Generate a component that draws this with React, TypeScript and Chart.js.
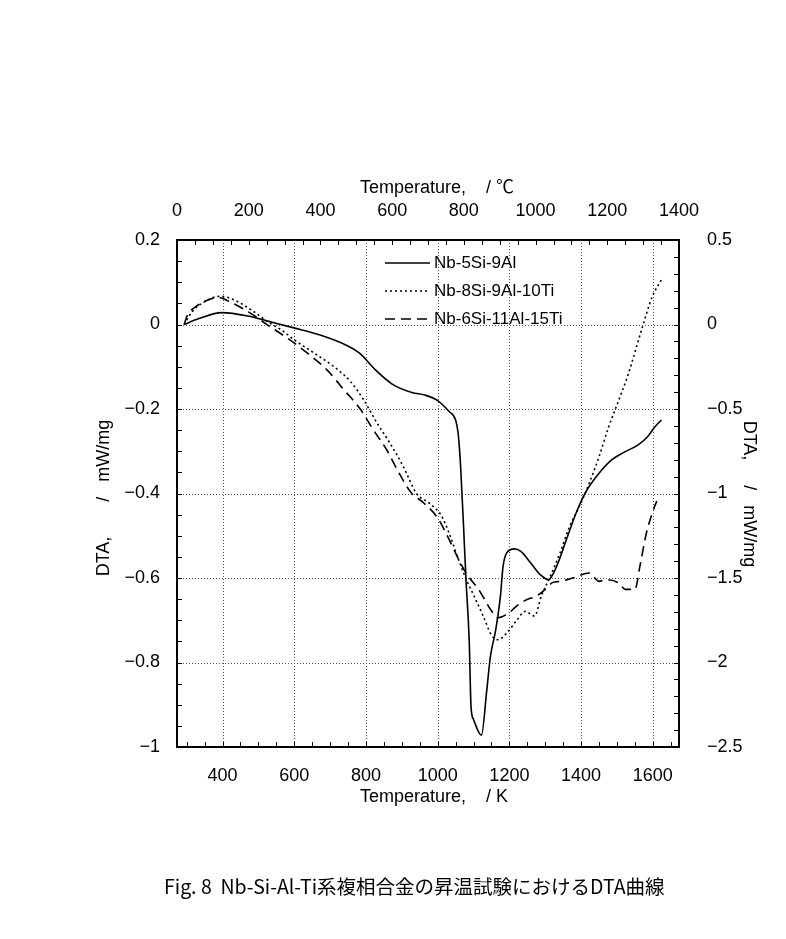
import React, { useEffect, useRef } from "react";
import { Chart, registerables } from "chart.js";

Chart.register(...registerables);

const FONT = '"Liberation Sans", Arial, "Noto Sans CJK JP", sans-serif';
const CJK_FONT = '"Noto Sans CJK JP", "Liberation Sans", sans-serif';

// Axis ticks
const kelvinTicks = [400, 600, 800, 1000, 1200, 1400, 1600];
const celsiusTicks = [0, 200, 400, 600, 800, 1000, 1200, 1400];
const dtaLeftTicks = [0.2, 0, -0.2, -0.4, -0.6, -0.8, -1];
const dtaRightTicks = [0.5, 0, -0.5, -1, -1.5, -2, -2.5];

const seriesLabels = ["Nb-5Si-9Al", "Nb-8Si-9Al-10Ti", "Nb-6Si-11Al-15Ti"];

// [Temperature / K, DTA / mW/mg]
const nb5Si9Al = [
  [293, 0], [334, 0.014], [398, 0.028], [471, 0.02], [526, 0.008], [599, -0.008],
  [672, -0.025], [745, -0.049], [782, -0.068], [827, -0.108], [873, -0.141],
  [928, -0.161], [964, -0.167], [1000, -0.18], [1032, -0.206], [1050, -0.226],
  [1057, -0.257], [1064, -0.336], [1073, -0.494], [1079, -0.604], [1088, -0.75],
  [1093, -0.905], [1100, -0.935], [1122, -0.972], [1137, -0.865], [1147, -0.786],
  [1162, -0.722], [1175, -0.643], [1182, -0.575], [1192, -0.541], [1214, -0.531],
  [1232, -0.537], [1259, -0.564], [1286, -0.592], [1309, -0.604], [1332, -0.572],
  [1359, -0.509], [1386, -0.446], [1414, -0.395], [1450, -0.352], [1486, -0.32],
  [1523, -0.301], [1559, -0.285], [1586, -0.265], [1605, -0.243], [1624, -0.226],
];

const nb8Si9Al10Ti = [
  [293, 0], [315, 0.03], [348, 0.053], [394, 0.067], [435, 0.057], [481, 0.034],
  [527, 0.006], [564, -0.013], [601, -0.037], [656, -0.068], [711, -0.1],
  [757, -0.135], [794, -0.179], [830, -0.232], [867, -0.281], [904, -0.336],
  [941, -0.4], [977, -0.423], [1010, -0.452], [1032, -0.494], [1055, -0.549],
  [1078, -0.6], [1100, -0.64], [1127, -0.69], [1150, -0.735], [1168, -0.746],
  [1193, -0.73], [1219, -0.702], [1244, -0.679], [1270, -0.69], [1290, -0.64],
  [1312, -0.6], [1341, -0.541], [1368, -0.478], [1395, -0.431], [1423, -0.375],
  [1450, -0.313], [1477, -0.242], [1505, -0.179], [1529, -0.124], [1571, -0.006],
  [1598, 0.065], [1626, 0.109],
];

const nb6Si11Al15Ti = [
  [293, 0], [302, 0.022], [325, 0.042], [356, 0.057], [389, 0.064], [417, 0.055],
  [472, 0.03], [527, -0.002], [582, -0.033], [637, -0.068], [692, -0.108],
  [739, -0.155], [784, -0.2], [821, -0.25], [858, -0.297], [890, -0.348],
  [925, -0.397], [962, -0.423], [1000, -0.458], [1032, -0.509], [1059, -0.557],
  [1082, -0.592], [1114, -0.627], [1148, -0.675], [1168, -0.694], [1198, -0.683],
  [1219, -0.667], [1249, -0.651], [1275, -0.643], [1300, -0.627], [1320, -0.611],
  [1341, -0.608], [1377, -0.6], [1423, -0.588], [1450, -0.608], [1468, -0.604],
  [1505, -0.612], [1523, -0.627], [1550, -0.627], [1564, -0.572], [1582, -0.494],
  [1605, -0.431], [1611, -0.418],
];

const seriesData = [nb5Si9Al, nb8Si9Al10Ti, nb6Si11Al15Ti];
const seriesDash = [[], [2, 3], [10, 6]];

const fmt = (v: number) => String(Math.round(v * 10) / 10).replace("-", "−");
const fmtInt = (v: number) => String(Math.round(v));

const decor = {
  id: "decor",
  beforeDatasetsDraw(chart: any) {
    const { ctx, chartArea: a, scales } = chart;
    ctx.save();
    ctx.strokeStyle = "#555";
    ctx.lineWidth = 1;
    ctx.setLineDash([1, 2]);
    for (const k of kelvinTicks) {
      const x = Math.round(scales.x.getPixelForValue(k)) + 0.5;
      ctx.beginPath();
      ctx.moveTo(x, a.top);
      ctx.lineTo(x, a.bottom);
      ctx.stroke();
    }
    for (const v of dtaLeftTicks) {
      const y = Math.round(scales.y.getPixelForValue(v)) + 0.5;
      ctx.beginPath();
      ctx.moveTo(a.left, y);
      ctx.lineTo(a.right, y);
      ctx.stroke();
    }
    ctx.restore();
  },
  afterDatasetsDraw(chart: any) {
    const { ctx, chartArea: a, scales } = chart;
    ctx.save();
    ctx.setLineDash([]);
    ctx.strokeStyle = "#000";
    ctx.lineWidth = 1;
    const T = 5;
    for (let k = 300; k <= 1650; k += 50) {
      const x = Math.round(scales.x.getPixelForValue(k)) + 0.5;
      ctx.beginPath(); ctx.moveTo(x, a.bottom); ctx.lineTo(x, a.bottom - T); ctx.stroke();
    }
    for (let c = 0; c <= 1400; c += 50) {
      const x = Math.round(scales.x2.getPixelForValue(c)) + 0.5;
      ctx.beginPath(); ctx.moveTo(x, a.top); ctx.lineTo(x, a.top + T); ctx.stroke();
    }
    for (let i = -20; i <= 4; i++) {
      const y = Math.round(scales.y.getPixelForValue(i * 0.05)) + 0.5;
      ctx.beginPath(); ctx.moveTo(a.left, y); ctx.lineTo(a.left + T, y); ctx.stroke();
    }
    for (let i = -25; i <= 5; i++) {
      const y = Math.round(scales.y2.getPixelForValue(i * 0.1)) + 0.5;
      ctx.beginPath(); ctx.moveTo(a.right, y); ctx.lineTo(a.right - T, y); ctx.stroke();
    }
    ctx.lineWidth = 2;
    ctx.strokeRect(a.left, a.top, a.right - a.left, a.bottom - a.top);

    // legend
    const lx = a.left + 208;
    const ly = a.top + 23;
    ctx.font = `17px ${FONT}`;
    ctx.textBaseline = "middle";
    ctx.textAlign = "left";
    ctx.fillStyle = "#000";
    chart.data.datasets.forEach((ds: any, i: number) => {
      const y = ly + i * 28;
      ctx.lineWidth = 1.5;
      ctx.setLineDash(ds.borderDash || []);
      ctx.beginPath();
      ctx.moveTo(lx, y);
      ctx.lineTo(lx + 45, y);
      ctx.stroke();
      ctx.setLineDash([]);
      ctx.fillText(ds.label, lx + 49, y);
    });
    ctx.restore();
  },
  afterDraw(chart: any) {
    const { ctx } = chart;
    ctx.save();
    ctx.fillStyle = "#000";
    ctx.font = `18px ${FONT}`;
    ctx.textBaseline = "middle";
    ctx.textAlign = "left";
    ctx.fillText("Temperature,    / ℃", 360, 188);
    ctx.fillText("Temperature,    / K", 360, 797);

    ctx.textAlign = "center";
    ctx.save();
    ctx.translate(104, 498);
    ctx.rotate(-Math.PI / 2);
    ctx.fillText("DTA,       /   mW/mg", 0, 0);
    ctx.restore();
    ctx.save();
    ctx.translate(749, 494);
    ctx.rotate(Math.PI / 2);
    ctx.fillText("DTA,     /   mW/mg", 0, 0);
    ctx.restore();

    ctx.textAlign = "left";
    ctx.font = `19.5px ${CJK_FONT}`;
    ctx.fillText("Fig. 8  Nb-Si-Al-Ti系複相合金の昇温試験におけるDTA曲線", 164, 887);
    ctx.restore();
  },
};

export default function App() {
  const ref = useRef<HTMLCanvasElement>(null);

  useEffect(() => {
    if (!ref.current) return;
    Chart.defaults.font.family = FONT;
    const tickFont = { size: 18, family: FONT };
    const chart = new Chart(ref.current, {
      type: "line",
      data: {
        datasets: seriesData.map((d, i) => ({
          label: seriesLabels[i],
          data: d.map(([x, y]) => ({ x, y })),
          borderColor: "#000",
          borderWidth: 1.6,
          borderDash: seriesDash[i],
          pointRadius: 0,
          fill: false,
          cubicInterpolationMode: "monotone" as const,
          xAxisID: "x",
          yAxisID: "y",
        })),
      },
      options: {
        animation: false,
        responsive: true,
        maintainAspectRatio: false,
        layout: { padding: 0 },
        plugins: { legend: { display: false }, tooltip: { enabled: false }, title: { display: false } },
        scales: {
          x: {
            type: "linear",
            position: "bottom",
            min: 273,
            max: 1673,
            afterBuildTicks: (s: any) => { s.ticks = kelvinTicks.map((value) => ({ value })); },
            afterFit: (s: any) => { s.height = 192; },
            ticks: { font: tickFont, color: "#000", padding: 10, maxRotation: 0, autoSkip: false, callback: (v: any) => fmtInt(Number(v)) },
            grid: { display: false },
            border: { display: false },
          },
          x2: {
            type: "linear",
            position: "top",
            min: 0,
            max: 1400,
            afterBuildTicks: (s: any) => { s.ticks = celsiusTicks.map((value) => ({ value })); },
            afterFit: (s: any) => { s.height = 240; },
            ticks: { font: tickFont, color: "#000", padding: 10, maxRotation: 0, autoSkip: false, callback: (v: any) => fmtInt(Number(v)) },
            grid: { display: false },
            border: { display: false },
          },
          y: {
            type: "linear",
            position: "left",
            min: -1,
            max: 0.2,
            afterBuildTicks: (s: any) => { s.ticks = dtaLeftTicks.map((value) => ({ value })); },
            afterFit: (s: any) => { s.width = 177; },
            ticks: { font: tickFont, color: "#000", padding: 9, callback: (v: any) => fmt(Number(v)) },
            grid: { display: false },
            border: { display: false },
          },
          y2: {
            type: "linear",
            position: "right",
            min: -2.5,
            max: 0.5,
            afterBuildTicks: (s: any) => { s.ticks = dtaRightTicks.map((value) => ({ value })); },
            afterFit: (s: any) => { s.width = 107; },
            ticks: { font: tickFont, color: "#000", padding: 20, callback: (v: any) => fmt(Number(v)) },
            grid: { display: false },
            border: { display: false },
          },
        },
      } as any,
      plugins: [decor],
    });
    return () => chart.destroy();
  }, []);

  return (
    <div style={{ position: "absolute", left: 0, top: 0, width: 786, height: 939, background: "#fff" }}>
      <canvas ref={ref} />
    </div>
  );
}
